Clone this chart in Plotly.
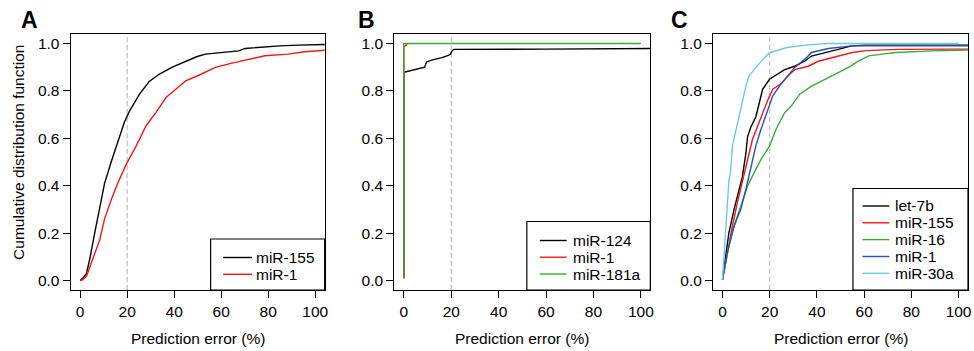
import plotly.graph_objects as go

# ---------------- data ----------------
# Panel A
a_names = ["miR-155", "miR-1"]
a_155_x = [0, 1, 2.7, 4.1, 6.2, 8.3, 10.4, 13.2, 16.0, 18.9, 21.0, 25.2, 29.4, 33.6, 39.2, 44.9, 49.8, 53.3, 60, 67.4, 70.2, 78.6, 85, 92.7, 100, 105]
a_155_y = [0, 0.008, 0.03, 0.09, 0.20, 0.30, 0.41, 0.50, 0.58, 0.67, 0.715, 0.785, 0.84, 0.87, 0.90, 0.925, 0.945, 0.955, 0.962, 0.969, 0.979, 0.986, 0.99, 0.993, 0.995, 0.996]
a_1_x = [0, 1, 2.7, 5.5, 8.3, 10.4, 13.2, 16.0, 19.6, 23.8, 28.0, 32.2, 36.5, 40.7, 44.9, 50.5, 57.5, 64.6, 71.6, 78.6, 88.5, 95.5, 100, 105]
a_1_y = [0, 0.003, 0.018, 0.09, 0.17, 0.26, 0.34, 0.41, 0.49, 0.567, 0.652, 0.708, 0.772, 0.807, 0.842, 0.866, 0.899, 0.917, 0.934, 0.948, 0.955, 0.965, 0.968, 0.972]

# Panel B
b_names = ["miR-124", "miR-1", "miR-181a"]
b_124_x = [0, 0, 0.5, 4.6, 8.8, 9.3, 9.6, 11.7, 16, 18.8, 19.6, 20.3, 21, 60, 99, 100, 105]
b_124_y = [0.01, 0.88, 0.88, 0.89, 0.90, 0.915, 0.922, 0.93, 0.94, 0.95, 0.955, 0.968, 0.975, 0.976, 0.978, 0.979, 0.979]
b_1_x = [0, 0, 0.5, 1.5]
b_1_y = [0.01, 0.985, 0.99, 0.997]
b_181a_x = [0, 0, 100]
b_181a_y = [0.01, 1.0, 1.0]

# Panel C
c_names = ["let-7b", "miR-155", "miR-16", "miR-1", "miR-30a"]
c_let7b_x = [0, 1.3, 2.7, 4.9, 7, 8.4, 9.9, 10.6, 12, 14.1, 15.6, 17, 19.9, 23.4, 26.3, 30.6, 34.9, 37.7, 40.6, 46.3, 49.1, 54.8, 60.6, 80, 100, 105]
c_let7b_y = [0.004, 0.103, 0.201, 0.30, 0.38, 0.437, 0.536, 0.606, 0.648, 0.69, 0.75, 0.807, 0.849, 0.87, 0.89, 0.904, 0.926, 0.947, 0.954, 0.969, 0.975, 0.99, 0.993, 0.993, 0.993, 0.993]
c_155_x = [0, 2, 4.2, 6.3, 8.4, 10.6, 12.7, 14.9, 17, 19.1, 21.3, 24.8, 27.7, 30.6, 36.3, 40.6, 46.3, 50.5, 55, 60.6, 74.8, 100, 105]
c_155_y = [0.004, 0.117, 0.23, 0.329, 0.413, 0.512, 0.596, 0.652, 0.71, 0.759, 0.807, 0.83, 0.863, 0.89, 0.904, 0.925, 0.94, 0.952, 0.962, 0.97, 0.975, 0.976, 0.976]
c_16_x = [0, 2.7, 4.9, 7.7, 10.6, 13.4, 16.3, 19.9, 22.7, 26.3, 29.1, 32.7, 37.7, 43.4, 49.1, 53.4, 57.7, 62, 67.7, 73.4, 89.1, 100, 105]
c_16_y = [0.004, 0.145, 0.23, 0.314, 0.398, 0.455, 0.511, 0.567, 0.638, 0.708, 0.736, 0.786, 0.82, 0.849, 0.877, 0.899, 0.927, 0.948, 0.955, 0.962, 0.969, 0.972, 0.973]
c_1_x = [0, 2, 4.9, 7.7, 9.9, 12, 14.1, 16.3, 19.1, 21.3, 24.2, 27.7, 30.6, 34.9, 37.7, 44.8, 49.1, 54.8, 100, 105]
c_1_y = [0.004, 0.117, 0.23, 0.30, 0.384, 0.483, 0.567, 0.638, 0.722, 0.779, 0.821, 0.863, 0.899, 0.934, 0.962, 0.979, 0.983, 0.99, 0.99, 0.99]
c_30a_x = [0, 1.3, 2, 2.7, 3.4, 4.2, 5.6, 6.3, 7.7, 8.4, 9.9, 11.3, 13.4, 14.1, 17, 19.9, 27.3, 36.3, 44.8, 100]
c_30a_y = [0.004, 0.215, 0.314, 0.42, 0.455, 0.567, 0.63, 0.66, 0.73, 0.76, 0.82, 0.865, 0.89, 0.899, 0.932, 0.961, 0.983, 0.994, 1.0, 1.0]

x_ticks = [0, 20, 40, 60, 80, 100]
y_ticks = [0.0, 0.2, 0.4, 0.6, 0.8, 1.0]
panel_labels = ["A", "B", "C"]
x_title = "Prediction error (%)"
y_title = "Cumulative distribution function"

BLACK, RED, GREEN, BLUE, CYAN = "#000000", "#f21818", "#3aaa3a", "#2c4fb8", "#6ccbdf"

panels = [
    [(a_names[0], a_155_x, a_155_y, BLACK), (a_names[1], a_1_x, a_1_y, RED)],
    [(b_names[0], b_124_x, b_124_y, BLACK), (b_names[1], b_1_x, b_1_y, RED), (b_names[2], b_181a_x, b_181a_y, GREEN)],
    [(c_names[0], c_let7b_x, c_let7b_y, BLACK), (c_names[1], c_155_x, c_155_y, RED),
     (c_names[2], c_16_x, c_16_y, GREEN), (c_names[3], c_1_x, c_1_y, BLUE), (c_names[4], c_30a_x, c_30a_y, CYAN)],
]

# ---------------- layout helpers ----------------
W, H = 974, 351
FONT = "Liberation Sans, Arial, Helvetica, sans-serif"
FS = 15.5
def px(x):
    return x / W
def py(y):
    return 1 - y / H

box_x = [(71, 326), (396, 653), (716, 972)]
box_top, box_bot = 34, 290
# legend geometry (pixels): box left, box top, line start, line end, text start, row centres
leg = [
    dict(left=211.5, top=239, l0=224, l1=253, t0=255, rows=[257.5, 274.3]),
    dict(left=529, top=221.5, l0=542, l1=569, t0=573, rows=[240.5, 257.2, 274]),
    dict(left=856.5, top=188.5, l0=866, l1=893, t0=897, rows=[206, 222.8, 239.6, 256.5, 273.3]),
]
panel_letter_x = [19, 357, 672]

fig = go.Figure()
shapes, annotations = [], []
for i, series in enumerate(panels):
    xa = "x" if i == 0 else f"x{i+1}"
    ya = "y" if i == 0 else f"y{i+1}"
    for name, xs, ys, col in series:
        fig.add_trace(go.Scatter(x=xs, y=ys, mode="lines", name=name,
                                 line=dict(color=col, width=1.4),
                                 xaxis=xa, yaxis=ya, showlegend=False, hoverinfo="skip"))
    axkey = "" if i == 0 else str(i + 1)
    fig.update_layout(**{
        f"xaxis{axkey}": dict(domain=[px(box_x[i][0]), px(box_x[i][1])], range=[-4, 104],
                              anchor=ya, tickvals=x_ticks, ticks="outside", ticklen=7,
                              showline=True, mirror=True, linecolor="black", linewidth=1.2,
                              showgrid=False, zeroline=False, tickcolor="black",
                              tickfont=dict(size=FS, color="black", family=FONT)),
        f"yaxis{axkey}": dict(domain=[py(box_bot), py(box_top)], range=[-0.04, 1.04],
                              anchor=xa, tickvals=y_ticks, tickformat=".1f", ticks="outside", ticklen=7,
                              showline=True, mirror=True, linecolor="black", linewidth=1.2,
                              showgrid=False, zeroline=False, tickcolor="black",
                              tickfont=dict(size=FS, color="black", family=FONT)),
    })
    # dashed reference line at 20 %
    shapes.append(dict(type="line", xref=xa, yref=f"{ya} domain", x0=20, x1=20, y0=0, y1=1,
                       line=dict(color="#b4b4b4", width=1, dash="5px,3px"), layer="below"))
    # legend
    L = leg[i]
    shapes.append(dict(type="rect", xref="paper", yref="paper",
                       x0=px(L["left"]), x1=px(box_x[i][1]), y0=py(box_bot), y1=py(L["top"]),
                       line=dict(color="black", width=1.2), fillcolor="white", layer="above"))
    for (name, xs, ys, col), ry in zip(series, L["rows"]):
        shapes.append(dict(type="line", xref="paper", yref="paper",
                           x0=px(L["l0"]), x1=px(L["l1"]), y0=py(ry), y1=py(ry),
                           line=dict(color=col, width=1.4), layer="above"))
        annotations.append(dict(text=name, xref="paper", yref="paper", x=px(L["t0"]), y=py(ry),
                                xanchor="left", yanchor="middle", showarrow=False,
                                font=dict(size=FS, color="black", family=FONT)))
    # x title
    annotations.append(dict(text=x_title, xref="paper", yref="paper",
                            x=px((box_x[i][0] + box_x[i][1]) / 2), y=py(338),
                            xanchor="center", yanchor="middle", showarrow=False,
                            font=dict(size=FS, color="black", family=FONT)))
    # panel letter
    annotations.append(dict(text=f"<b>{panel_labels[i]}</b>", xref="paper", yref="paper",
                            x=px(panel_letter_x[i]), y=py(20), xanchor="left", yanchor="middle",
                            showarrow=False, font=dict(size=23, color="black", family=FONT)))

annotations.append(dict(text=y_title, xref="paper", yref="paper", x=px(19), y=py(152),
                        xanchor="center", yanchor="middle", textangle=-90, showarrow=False,
                        font=dict(size=FS, color="black", family=FONT)))

fig.update_layout(width=W, height=H, margin=dict(l=0, r=0, t=0, b=0),
                  paper_bgcolor="white", plot_bgcolor="white",
                  shapes=shapes, annotations=annotations, showlegend=False,
                  font=dict(family=FONT, color="black"))
fig.write_html("out.html", config={"displayModeBar": False},
               post_script="document.body.style.margin='0';document.body.style.overflow='hidden';")
